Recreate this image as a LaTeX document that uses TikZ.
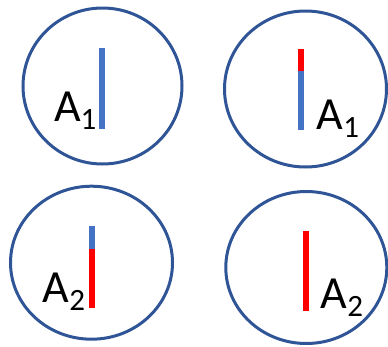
\documentclass[tikz,border=0pt]{standalone}
\usepackage{fontspec}
\setmainfont{Carlito}
\definecolor{ringblue}{HTML}{2F5597}
\definecolor{barblue}{HTML}{4472C4}
\definecolor{barred}{HTML}{FF0000}
\tikzset{
  ring/.style={draw=ringblue, line width=3pt},
  barb/.style={draw=barblue, line width=6pt},
  barr/.style={draw=barred, line width=6pt},
  lab/.style={anchor=base west, inner sep=0pt, outer sep=0pt, font=\fontsize{46}{46}\selectfont}
}
\newcommand{\lbl}[1]{A\raisebox{-8pt}{\fontsize{31}{31}\selectfont #1}}
\begin{document}
\begin{tikzpicture}[x=1pt,y=-1pt]
\useasboundingbox (0,0) rectangle (388,346);
% top-left
\draw[ring] (102.5,86) ellipse [x radius=79.5, y radius=78];
\draw[barb] (102,48) -- (102,129);
\node[lab] (t1) at (54,121) {\lbl{1}};
% top-right
\draw[ring] (305.5,89) ellipse [x radius=81, y radius=78];
\draw[barr] (301,49) -- (301,71);
\draw[barb] (301,71) -- (301,130);
\node[lab] (t2) at (316.7,129.3) {\lbl{1}};
% bottom-left
\draw[ring] (91.5,262.7) ellipse [x radius=81, y radius=76.5];
\draw[barb] (91.7,225.7) -- (91.7,249);
\draw[barr] (91.7,249) -- (91.7,308);
\node[lab] (t3) at (42.7,302.3) {\lbl{2}};
% bottom-right
\draw[ring] (306.3,267.5) ellipse [x radius=80.5, y radius=76];
\draw[barr] (305.5,230.7) -- (305.5,311.3);
\node[lab] (t4) at (320.7,308) {\lbl{2}};
\end{tikzpicture}
\end{document}
